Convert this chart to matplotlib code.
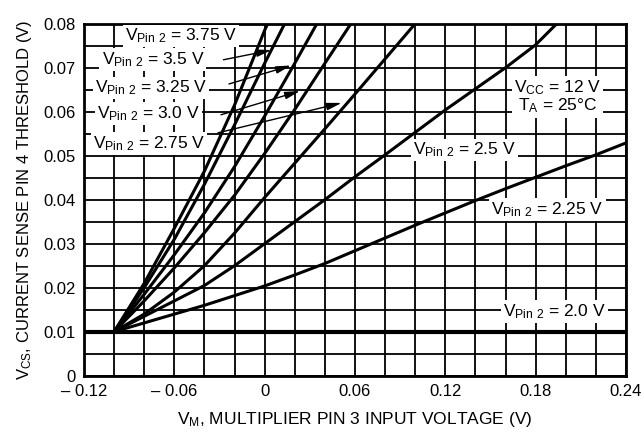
"""Current sense threshold vs multiplier input voltage (family of V_Pin2 curves)."""

import matplotlib
matplotlib.use("Agg")
import matplotlib.pyplot as plt
from matplotlib.ticker import MultipleLocator

plt.rcParams["font.family"] = ["Liberation Sans", "DejaVu Sans"]
plt.rcParams["mathtext.default"] = "regular"

FS = 12.5

# curves (x = V_M, y = V_CS)
x_375 = [-0.10, -0.08, -0.06, -0.04, -0.02, 0.0, 0.002]
y_375 = [0.010, 0.021, 0.0335, 0.0465, 0.0615, 0.0785, 0.080]

x_35 = [-0.10, -0.08, -0.06, -0.04, -0.02, 0.0, 0.0133]
y_35 = [0.010, 0.020, 0.031, 0.0435, 0.057, 0.071, 0.080]

x_325 = [-0.10, -0.08, -0.06, -0.04, -0.02, 0.0, 0.02, 0.0347]
y_325 = [0.010, 0.0185, 0.0275, 0.037, 0.0475, 0.059, 0.071, 0.080]

x_30 = [-0.10, -0.08, -0.06, -0.04, -0.02, 0.0, 0.02, 0.04, 0.0573]
y_30 = [0.010, 0.017, 0.0245, 0.0325, 0.041, 0.0505, 0.0605, 0.071, 0.080]

x_275 = [-0.10, -0.08, -0.06, -0.04, -0.02, 0.0, 0.02, 0.04, 0.06, 0.08, 0.10]
y_275 = [0.010, 0.014, 0.019, 0.025, 0.0324, 0.0405, 0.0483, 0.0561, 0.064, 0.072, 0.080]

x_25 = [-0.10, -0.08, -0.06, -0.04, -0.02, 0.0, 0.02, 0.04, 0.06, 0.08,
        0.10, 0.12, 0.14, 0.16, 0.18, 0.194]
y_25 = [0.010, 0.0135, 0.017, 0.0205, 0.025, 0.030, 0.035, 0.040, 0.0452, 0.0502,
        0.0553, 0.0604, 0.0652, 0.070, 0.0752, 0.080]

x_225 = [-0.10, -0.08, -0.06, -0.04, -0.02, 0.0, 0.02, 0.04, 0.06, 0.08,
         0.10, 0.12, 0.14, 0.16, 0.18, 0.20, 0.22, 0.24]
y_225 = [0.010, 0.012, 0.014, 0.016, 0.0182, 0.0204, 0.0229, 0.0255, 0.0284, 0.0313,
         0.0342, 0.037, 0.0398, 0.0425, 0.0451, 0.0477, 0.0502, 0.0529]

x_20 = [-0.12, 0.24]
y_20 = [0.010, 0.010]

x_ticks = [-0.12, -0.06, 0.0, 0.06, 0.12, 0.18, 0.24]
x_tick_labels = ["\u2013 0.12", "\u2013 0.06", "0", "0.06", "0.12", "0.18", "0.24"]
y_ticks = [0, 0.01, 0.02, 0.03, 0.04, 0.05, 0.06, 0.07, 0.08]
y_tick_labels = ["0", "0.01", "0.02", "0.03", "0.04", "0.05", "0.06", "0.07", "0.08"]

fig = plt.figure(figsize=(6.44, 4.34), dpi=100)
ax = fig.add_axes([0.1304, 0.1343, 0.8416, 0.8111])

for xs, ys in [(x_375, y_375), (x_35, y_35), (x_325, y_325), (x_30, y_30),
               (x_275, y_275), (x_25, y_25), (x_225, y_225)]:
    ax.plot(xs, ys, color="black", lw=2.2, solid_capstyle="butt", zorder=4)
ax.plot(x_20, y_20, color="black", lw=3.0, zorder=4)

ax.set_xlim(-0.12, 0.24)
ax.set_ylim(0, 0.08)
ax.set_xticks(x_ticks)
ax.set_xticklabels(x_tick_labels)
ax.set_yticks(y_ticks)
ax.set_yticklabels(y_tick_labels)
ax.xaxis.set_minor_locator(MultipleLocator(0.02))
ax.yaxis.set_minor_locator(MultipleLocator(0.005))
ax.grid(True, which="both", color="black", lw=1.3, zorder=1)
ax.set_axisbelow(True)
ax.tick_params(which="both", length=0, labelsize=12, pad=6)
for sp in ax.spines.values():
    sp.set_linewidth(2)

ax.set_xlabel("V$_M$, MULTIPLIER PIN 3 INPUT VOLTAGE (V)", fontsize=FS, labelpad=8)
ax.set_ylabel("V$_{CS}$, CURRENT SENSE PIN 4 THRESHOLD (V)", fontsize=12, labelpad=7)

box = dict(facecolor="white", edgecolor="none", pad=1.5)
labels = [
    ("V$_{Pin\\ 2}$ = 3.75 V", -0.0555, 0.0772),
    ("V$_{Pin\\ 2}$ = 3.5 V", -0.0742, 0.0718),
    ("V$_{Pin\\ 2}$ = 3.25 V", -0.0755, 0.0654),
    ("V$_{Pin\\ 2}$ = 3.0 V", -0.0771, 0.0595),
    ("V$_{Pin\\ 2}$ = 2.75 V", -0.0768, 0.0527),
    ("V$_{Pin\\ 2}$ = 2.5 V", 0.1325, 0.0513),
    ("V$_{Pin\\ 2}$ = 2.25 V", 0.188, 0.0377),
    ("V$_{Pin\\ 2}$ = 2.0 V", 0.1923, 0.01455),
]
for txt, tx, ty in labels:
    ax.text(tx, ty, txt, fontsize=FS, ha="center", va="center", bbox=box, zorder=3)

ax.text(0.1946, 0.0634, "V$_{CC}$ = 12 V\nT$_A$ = 25\u00b0C", fontsize=FS,
        ha="center", va="center", linespacing=1.0, bbox=box, zorder=3)

# arrows from the upper labels to their curves
arrows = [((-0.0274, 0.0718), (0.0047, 0.0740)),
          ((-0.0237, 0.0663), (0.0175, 0.0705)),
          ((-0.029, 0.0593), (0.0235, 0.0647)),
          ((-0.031, 0.0552), (0.0512, 0.0620))]
for tail, tip in arrows:
    ax.annotate("", xy=tip, xytext=tail, zorder=5,
                arrowprops=dict(arrowstyle="-|>,head_length=0.9,head_width=0.22",
                                color="black", lw=1.0, shrinkA=0, shrinkB=0))

fig.savefig("out.png", dpi=100)
